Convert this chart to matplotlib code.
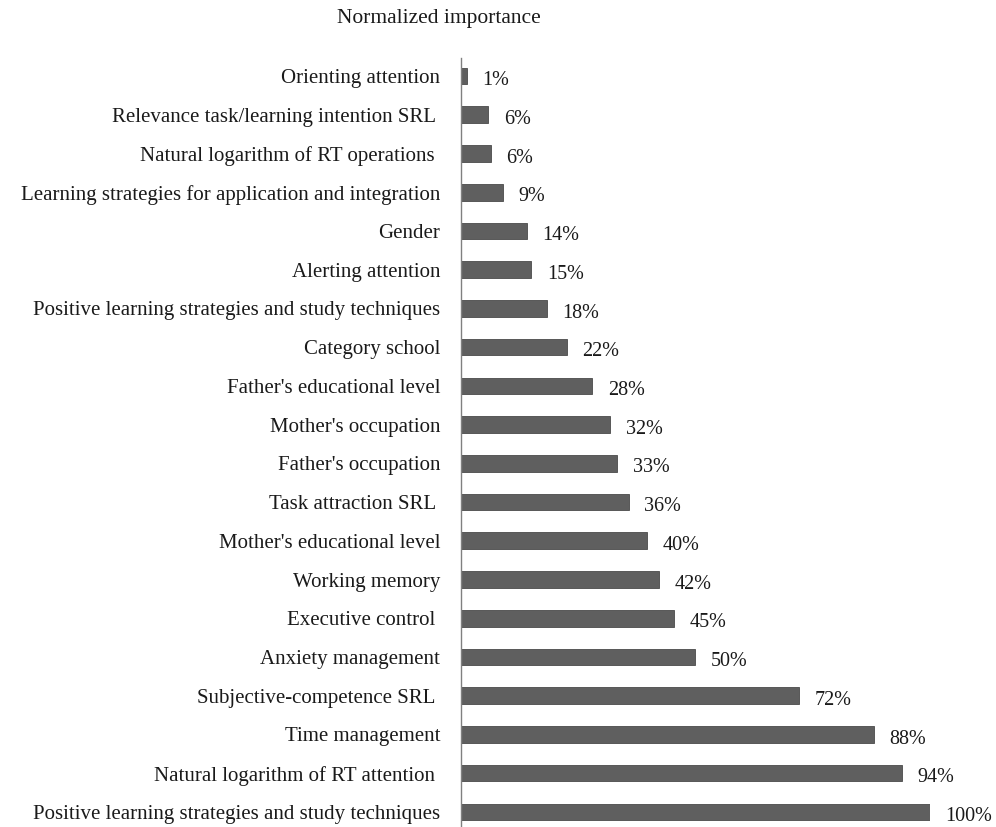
import matplotlib.pyplot as plt
import numpy as np

plt.rcParams['font.family'] = ['Liberation Serif', 'DejaVu Serif']

# Data (top to bottom as drawn)
categories = [
    "Orienting attention",
    "Relevance task/learning intention SRL ",
    "Natural logarithm of RT operations ",
    "Learning strategies for application and integration",
    "Gender",
    "Alerting attention",
    "Positive learning strategies and study techniques",
    "Category school",
    "Father's educational level",
    "Mother's occupation",
    "Father's occupation",
    "Task attraction SRL ",
    "Mother's educational level",
    "Working memory",
    "Executive control ",
    "Anxiety management",
    "Subjective-competence SRL ",
    "Time management",
    "Natural logarithm of RT attention ",
    "Positive learning strategies and study techniques",
]
values = [1.3, 5.8, 6.4, 9.0, 14.0, 15.0, 18.3, 22.6, 28.0, 31.8,
          33.3, 35.8, 39.7, 42.2, 45.4, 49.9, 72.0, 88.0, 94.0, 100.0]
pct_labels = [1, 6, 6, 9, 14, 15, 18, 22, 28, 32,
              33, 36, 40, 42, 45, 50, 72, 88, 94, 100]

fig = plt.figure(figsize=(9.96, 8.27), dpi=100)
ax = fig.add_axes([461 / 996, 0.0, 469 / 996, 1 - 58 / 827])

y = np.arange(len(categories))
ax.barh(y, values, height=0.43, color='#5f5f5f', edgecolor='#4a4a4a', linewidth=0.6)

for yi, v, lab in zip(y, values, pct_labels):
    ax.text(v + 3.3, yi + 0.12, f"{lab}%", va='center', ha='left', fontsize=14.5, color='#1a1a1a')

ax.set_xlim(0, 100)
ax.set_ylim(len(categories) - 1 + 0.39, -0.465)
ax.set_yticks(y)
ax.set_yticklabels(categories, fontsize=15, color='#1a1a1a')
ax.tick_params(axis='y', length=0, pad=15)
ax.set_xticks([])

for s in ['top', 'right', 'bottom']:
    ax.spines[s].set_visible(False)
ax.spines['left'].set_color('#808080')
ax.spines['left'].set_linewidth(1.0)

fig.text(439 / 996, 1 - 18 / 827, "Normalized importance", ha='center', va='center',
         fontsize=15.5, color='#1a1a1a')

fig.savefig("out.png", dpi=100)
